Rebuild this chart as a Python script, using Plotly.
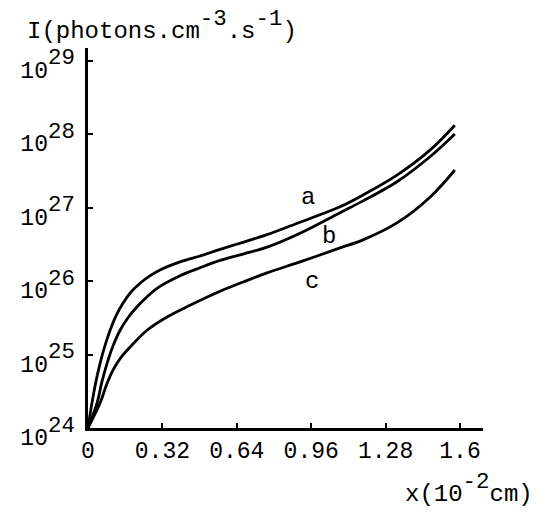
import plotly.graph_objects as go

# x positions (10^-2 cm) and log10 intensities
x_a = [0.0, 0.017, 0.034, 0.052, 0.073, 0.095, 0.121, 0.151, 0.185, 0.224, 0.266, 0.310, 0.396, 0.482, 0.568, 0.670, 0.770, 0.912, 1.084, 1.183, 1.329, 1.471, 1.578]
logI_a = [24.0, 24.34, 24.63, 24.88, 25.12, 25.33, 25.53, 25.70, 25.85, 25.97, 26.07, 26.15, 26.26, 26.34, 26.43, 26.53, 26.63, 26.80, 27.01, 27.17, 27.44, 27.78, 28.12]

x_b = [0.0, 0.039, 0.060, 0.082, 0.108, 0.138, 0.172, 0.211, 0.252, 0.297, 0.396, 0.482, 0.568, 0.670, 0.770, 0.912, 1.084, 1.183, 1.329, 1.471, 1.578]
logI_b = [24.0, 24.34, 24.63, 24.88, 25.12, 25.33, 25.50, 25.65, 25.78, 25.90, 26.07, 26.18, 26.28, 26.37, 26.46, 26.65, 26.93, 27.09, 27.35, 27.69, 28.0]

x_c = [0.0, 0.052, 0.080, 0.108, 0.142, 0.181, 0.254, 0.340, 0.439, 0.568, 0.670, 0.770, 0.912, 1.084, 1.183, 1.329, 1.471, 1.578]
logI_c = [24.0, 24.34, 24.59, 24.79, 24.96, 25.10, 25.33, 25.51, 25.67, 25.86, 25.99, 26.11, 26.26, 26.45, 26.56, 26.79, 27.14, 27.51]

x_ticks = [0, 0.32, 0.64, 0.96, 1.28, 1.6]
x_ticklabels = ["0", "0.32", "0.64", "0.96", "1.28", "1.6"]
y_exponents = [24, 25, 26, 27, 28, 29]

curve_labels = ["a", "b", "c"]
label_x = [0.946, 1.036, 0.963]
label_logy = [27.13, 26.60, 25.99]

FONT = "Liberation Mono"
BIG = 32  # base size so that plotly's 70% superscript is ~22px


def txt(s, size=23):
    return f'<span style="font-size:{size}px">{s}</span>'


fig = go.Figure()
for xs, ls in [(x_a, logI_a), (x_b, logI_b), (x_c, logI_c)]:
    fig.add_trace(go.Scatter(
        x=xs, y=[10.0 ** v for v in ls], mode="lines",
        line=dict(color="black", width=2.8, shape="spline", smoothing=1.0),
        showlegend=False, hoverinfo="skip"))

ytext = [f'{txt("10")}<sup>{e}</sup>' for e in y_exponents]

fig.update_layout(
    width=545, height=512,
    margin=dict(l=88, r=62, t=48, b=84),
    paper_bgcolor="white", plot_bgcolor="white",
    font=dict(family=FONT, size=23, color="black"),
    xaxis=dict(
        range=[0, 1.699], tickvals=x_ticks, ticktext=x_ticklabels,
        showgrid=False, zeroline=False, showline=True, linecolor="black", linewidth=2.5,
        ticks="inside", ticklen=5, tickwidth=2, tickcolor="black",
        tickfont=dict(family=FONT, size=23, color="black")),
    yaxis=dict(
        type="log", range=[24, 29.17],
        tickvals=[10.0 ** e for e in y_exponents], ticktext=ytext,
        showgrid=False, zeroline=False, showline=True, linecolor="black", linewidth=2.5,
        ticks="inside", ticklen=5, tickwidth=2, tickcolor="black",
        ticklabelstandoff=4, ticklabelshift=6,
        tickfont=dict(family=FONT, size=BIG, color="black")),
)

for t, lx, ly in zip(curve_labels, label_x, label_logy):
    fig.add_annotation(x=lx, y=ly, xref="x", yref="y", text=t, showarrow=False,
                       font=dict(family=FONT, size=24, color="black"))

fig.add_annotation(
    xref="paper", yref="paper", x=-0.159, y=1.058, xanchor="left", yanchor="middle",
    text=f'{txt("I(photons.cm", 24)}<sup>-3</sup>{txt(".s", 24)}<sup>-1</sup>{txt(")", 24)}',
    showarrow=False, font=dict(family=FONT, size=BIG, color="black"))

fig.add_annotation(
    xref="paper", yref="paper", x=0.797, y=-0.158, xanchor="left", yanchor="middle",
    text=f'{txt("x(10", 24)}<sup>-2</sup>{txt("cm)", 24)}',
    showarrow=False, font=dict(family=FONT, size=BIG, color="black"))

fig.write_html("out.html")
